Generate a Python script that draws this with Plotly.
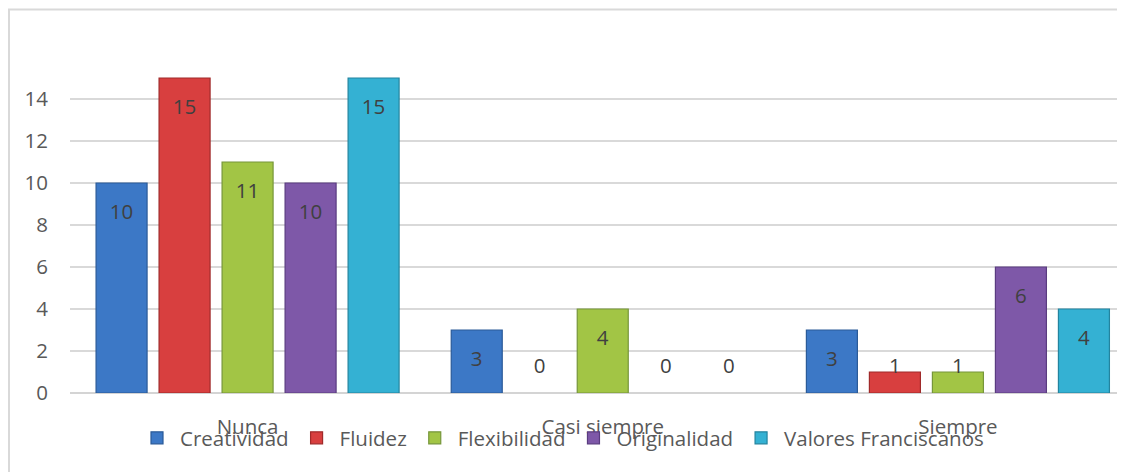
import plotly.graph_objects as go

categories = ["Nunca", "Casi siempre", "Siempre"]
series_names = ["Creatividad", "Fluidez", "Flexibilidad", "Originalidad", "Valores Franciscanos"]
creatividad = [10, 3, 3]
fluidez = [15, 0, 1]
flexibilidad = [11, 4, 1]
originalidad = [10, 0, 6]
valores = [15, 0, 4]
y_ticks = [0, 2, 4, 6, 8, 10, 12, 14]

series_values = [creatividad, fluidez, flexibilidad, originalidad, valores]
fill_colors = ["#3C78C6", "#D83F3F", "#A2C545", "#7E58A8", "#34B1D3"]
edge_colors = ["#2A5A98", "#A02A2A", "#76963A", "#5A3C80", "#23849F"]

FONT = "Open Sans"
FS = 20.5
slot = 0.1774
bar_w = 0.1436
label_drop = 1.45
label_floor = 1.19

fig = go.Figure()
n = len(series_names)
for j, (name, vals) in enumerate(zip(series_names, series_values)):
    xs = [i + (j - (n - 1) / 2) * slot for i in range(len(categories))]
    fig.add_trace(go.Bar(
        x=xs, y=vals, width=bar_w, name=name,
        marker=dict(color=fill_colors[j],
                    line=dict(color=edge_colors[j], width=[1.2 if v else 0 for v in vals])),
        hoverinfo="skip",
    ))
    fig.add_trace(go.Scatter(
        x=xs, y=[max(v - label_drop, label_floor) for v in vals],
        mode="text", text=[str(v) for v in vals],
        textfont=dict(family=FONT, size=FS, color="#404040"),
        textposition="middle center", showlegend=False, hoverinfo="skip",
    ))

# page body margin offsets the figure by 8 px; work in figure coordinates
OFF = 8
W, H = 1125, 472
plot_l, plot_r, plot_t, plot_b = 70 - OFF, W, 57 - OFF, 393 - OFF
pw, ph = plot_r - plot_l, plot_b - plot_t

def px_x(p):
    return (p - OFF - plot_l) / pw

def px_y(p):
    return (plot_b - (p - OFF)) / ph

fig.add_shape(type="rect", xref="paper", yref="paper",
              x0=px_x(9), x1=px_x(1160), y0=px_y(500), y1=px_y(9.5),
              line=dict(color="#D9D9D9", width=2), fillcolor="rgba(0,0,0,0)", layer="below")

fig.update_layout(
    width=W, height=H,
    margin=dict(l=plot_l, r=W - plot_r, t=plot_t, b=H - plot_b, pad=0),
    paper_bgcolor="white", plot_bgcolor="white",
    barmode="overlay",
    font=dict(family=FONT, size=FS, color="#595959"),
    showlegend=True,
    legend=dict(orientation="h", x=px_x(134), xanchor="left", y=px_y(438), yanchor="middle",
                font=dict(family=FONT, size=FS, color="#595959"), itemwidth=36,
                bgcolor="rgba(0,0,0,0)", traceorder="normal", itemclick=False),
    xaxis=dict(range=[-0.5, 2.493], tickvals=list(range(len(categories))), ticktext=categories,
               showgrid=False, zeroline=False, showline=False, ticks="", ticklabelstandoff=19,
               tickfont=dict(family=FONT, size=FS, color="#595959"), fixedrange=True),
    yaxis=dict(range=[0, 16], tickvals=y_ticks, showgrid=True, gridcolor="#D9D9D9", gridwidth=1.5,
               zeroline=True, zerolinecolor="#D4D4D4", zerolinewidth=2, showline=False, ticks="",
               ticklabelstandoff=21,
               tickfont=dict(family=FONT, size=FS, color="#595959"), fixedrange=True),
)

fig.write_html("out.html")
